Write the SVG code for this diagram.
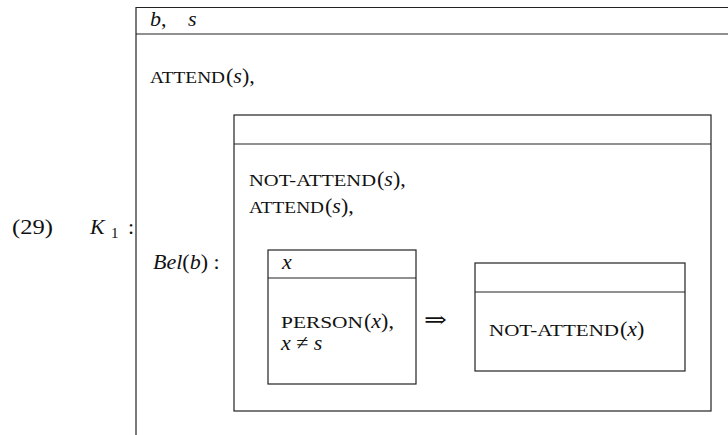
<svg xmlns="http://www.w3.org/2000/svg" width="728" height="435" viewBox="0 0 728 435">
<style>
.ln{fill:none;stroke:#222;stroke-width:1.2}
.t{font-family:"Liberation Serif","DejaVu Serif",serif;font-size:22px;fill:#111}
.i{font-style:italic}
.sc{font-family:"Liberation Serif","DejaVu Serif",serif;font-size:17px;fill:#111}
.sub{font-size:15px}
</style>
<rect width="728" height="435" fill="#fff"/>
<g id="labels">
<text class="t" x="12" y="234" textLength="41" lengthAdjust="spacingAndGlyphs">(29)</text>
<text class="t i" x="90" y="234">K</text>
<text class="t sub" x="111" y="238">1</text>
<text class="t" x="128" y="234">:</text>
</g>
<g id="K1">
<path class="ln" d="M728,7.5 H136 V435 M136,34 H728"/>
<text class="t i" x="150" y="26">b<tspan font-style="normal">,</tspan></text>
<text class="t i" x="188" y="26">s</text>
<text class="sc" x="150" y="83" textLength="75" lengthAdjust="spacingAndGlyphs">ATTEND</text>
<text class="t" x="226" y="83">(<tspan class="i">s</tspan>),</text>
<text class="t" x="153" y="269"><tspan class="i">Bel</tspan>(<tspan class="i">b</tspan>) :</text>
</g>
<g id="Bel">
<rect class="ln" x="234" y="115" width="477" height="296"/>
<line class="ln" x1="234" y1="144" x2="711" y2="144"/>
<text class="sc" x="249" y="186" textLength="127" lengthAdjust="spacingAndGlyphs">NOT-ATTEND</text>
<text class="t" x="377" y="186">(<tspan class="i">s</tspan>),</text>
<text class="sc" x="249" y="213" textLength="75" lengthAdjust="spacingAndGlyphs">ATTEND</text>
<text class="t" x="325" y="213">(<tspan class="i">s</tspan>),</text>
</g>
<g id="antecedent">
<rect class="ln" x="268" y="250" width="148" height="134"/>
<line class="ln" x1="268" y1="278" x2="416" y2="278"/>
<text class="t i" x="282" y="269">x</text>
<text class="sc" x="281" y="328" textLength="82" lengthAdjust="spacingAndGlyphs">PERSON</text>
<text class="t" x="364" y="328">(<tspan class="i">x</tspan>),</text>
<text class="t" x="281" y="350"><tspan class="i">x</tspan> ≠ <tspan class="i">s</tspan></text>
</g>
<g id="connectors">
<text class="t" x="424" y="327" textLength="23" lengthAdjust="spacingAndGlyphs">⇒</text>
</g>
<g id="consequent">
<rect class="ln" x="475" y="263" width="210" height="108"/>
<line class="ln" x1="475" y1="292" x2="685" y2="292"/>
<text class="sc" x="489" y="336" textLength="130" lengthAdjust="spacingAndGlyphs">NOT-ATTEND</text>
<text class="t" x="620" y="336">(<tspan class="i">x</tspan>)</text>
</g>
</svg>
